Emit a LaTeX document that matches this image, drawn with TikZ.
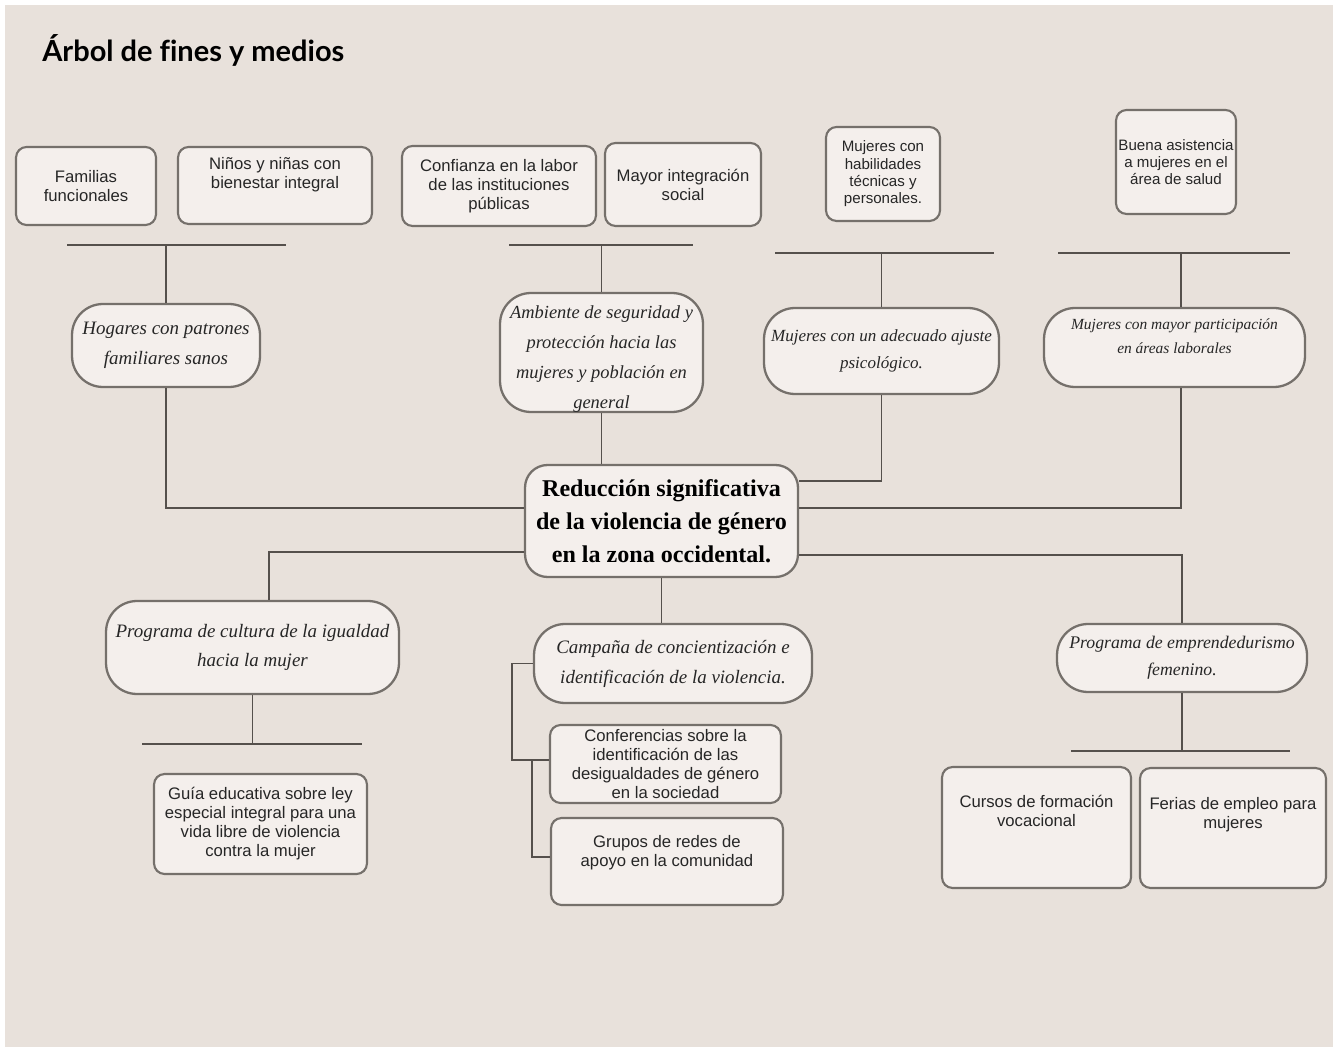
\documentclass[tikz,border=0pt]{standalone}
\usepackage{fontspec}
\setmainfont{Liberation Serif}
\newfontfamily\sansfont{Liberation Sans}
\newfontfamily\headfont{Lato}[Ligatures=NoCommon]
\definecolor{paper}{HTML}{E8E1DB}
\definecolor{boxfill}{HTML}{F4EFEC}
\definecolor{edge}{HTML}{75706B}
\definecolor{wirec}{HTML}{55504C}

\begin{document}
\begin{tikzpicture}[
  x=0.02cm, y=-0.02cm,
  sbox/.style={draw=edge, fill=boxfill, line width=1.2pt, rounded corners=6pt,
               inner sep=1pt, align=center, text=black!85,
               font=\sansfont\fontsize{9.5}{10.8}\selectfont},
  snug/.style={font=\sansfont\fontsize{8.6}{9.9}\selectfont},
  pill/.style={draw=edge, fill=boxfill, line width=1.3pt, rounded corners=0.62cm,
               inner sep=1pt, align=center, text=black!85,
               font=\itshape\fontsize{10.8}{17}\selectfont},
  txt/.style={align=center, inner sep=0pt, text=black!85,
              font=\sansfont\fontsize{9.5}{10.8}\selectfont},
  wire/.style={draw=wirec, line width=0.9pt},
]
\useasboundingbox (0,0) rectangle (1333,1047);
\fill[white] (0,0) rectangle (1333,1047);
\fill[paper] (5,5) rectangle (1333,1047);

\node[font=\headfont\bfseries\fontsize{16.5}{20}\selectfont, anchor=west, inner sep=0pt] (title) at (42,50) {Árbol de fines y medios};

%% ====================================================
%% Fines (top row)
%% ====================================================
\node[sbox, minimum width=2.80cm, minimum height=1.56cm] (fam) at (86,186) {Familias\\funcionales};
\node[sbox, minimum width=3.88cm, minimum height=1.54cm] (nin) at (275,185.5) {};
\node[txt] (nin-t) at (275,174.5) {Niños y niñas con\\bienestar integral};
\node[sbox, minimum width=3.88cm, minimum height=1.60cm] (con) at (499,186) {Confianza en la labor\\de las instituciones\\públicas};
\node[sbox, minimum width=3.12cm, minimum height=1.66cm] (may) at (683,184.5) {Mayor integración\\social};
\node[sbox, snug, minimum width=2.28cm, minimum height=1.88cm] (hab) at (883,174) {Mujeres con\\habilidades\\técnicas y\\personales.};
\node[sbox, snug, minimum width=2.40cm, minimum height=2.08cm] (bue) at (1176,162) {Buena asistencia\\a mujeres en el\\área de salud};

%% Bars
\coordinate (b1l) at (67,245);   \coordinate (b1r) at (286,245);
\coordinate (b2l) at (509,245);  \coordinate (b2r) at (693,245);
\coordinate (b3l) at (775,253);  \coordinate (b3r) at (994,253);
\coordinate (b4l) at (1058,253); \coordinate (b4r) at (1290,253);
\coordinate (b5l) at (142,744);  \coordinate (b5r) at (362,744);
\coordinate (b6l) at (1071,751); \coordinate (b6r) at (1290,751);
\coordinate (b4m) at (1181,253);
\foreach \b in {1,...,6} {
  \draw[wire] (b\b l) -- (b\b r);
}

%% ---- Middle row ----
\node[pill, minimum width=3.76cm, minimum height=1.66cm] (hog) at (166,345.5) {Hogares con patrones\\familiares sanos};
\node[pill, minimum width=4.06cm, minimum height=2.38cm] (amb) at (601.5,352.5) {};
\node[txt, font=\itshape\fontsize{10.5}{17}\selectfont] (amb-t) at (601.5,359) {Ambiente de seguridad y\\protección hacia las\\mujeres y población en\\general};
\node[pill, minimum width=4.70cm, minimum height=1.72cm, font=\itshape\fontsize{9.7}{15.3}\selectfont] (maj) at (881.5,351) {Mujeres con un adecuado ajuste\\psicológico.};
\node[pill, minimum width=5.22cm, minimum height=1.58cm] (mpa) at (1174.5,347.5) {};
\node[txt, font=\itshape\fontsize{8.8}{13.6}\selectfont] (mpa-t) at (1174.5,336) {Mujeres con mayor participación\\en áreas laborales};

\draw[wire] (hog.north) -- (hog.north |- b1l);
\draw[wire] (amb.north) -- (amb.north |- b2l);
\draw[wire] (maj.north) -- (maj.north |- b3l);
\draw[wire] (b4m) -- (b4m |- mpa.north);

%% ====================================================
%% Central problem
%% ====================================================
\node[pill, rounded corners=0.45cm, minimum width=5.46cm, minimum height=2.24cm, text=black,
      font=\bfseries\fontsize{13.7}{18.7}\selectfont] (cen) at (661.5,521) {Reducción significativa\\de la violencia de género\\en la zona occidental.};

\draw[wire] (hog.south) |- ([yshift=0.26cm]cen.west);
\draw[wire] (amb.south) -- (amb.south |- cen.north);
\draw[wire] (maj.south) |- ([yshift=0.80cm]cen.east);
\draw[wire] (b4m |- mpa.south) |- ([yshift=0.26cm]cen.east);

%% ====================================================
%% Medios (bottom row)
%% ====================================================
\node[pill, minimum width=5.86cm, minimum height=1.86cm] (pcu) at (252.5,647.5) {Programa de cultura de la igualdad\\hacia la mujer};
\node[sbox, minimum width=4.26cm, minimum height=2.00cm] (gui) at (260.5,824) {Guía educativa sobre ley\\especial integral para una\\vida libre de violencia\\contra la mujer};

\node[pill, minimum width=5.56cm, minimum height=1.58cm] (cam) at (673,663.5) {Campaña de concientización e\\identificación de la violencia.};
\node[sbox, minimum width=4.62cm, minimum height=1.56cm] (cnf) at (665.5,764) {Conferencias sobre la\\identificación de las\\desigualdades de género\\en la sociedad};
\node[sbox, minimum width=4.64cm, minimum height=1.74cm] (gru) at (667,861.5) {};
\node[txt] (gru-t) at (667,852.5) {Grupos de redes de\\apoyo en la comunidad};

\node[pill, minimum width=5.00cm, minimum height=1.36cm, font=\itshape\fontsize{10.1}{15.3}\selectfont] (pem) at (1182,658) {Programa de emprendedurismo\\femenino.};
\node[sbox, minimum width=3.78cm, minimum height=2.42cm] (cur) at (1036.5,827.5) {};
\node[txt] (cur-t) at (1036.5,810.5) {Cursos de formación\\vocacional};
\node[sbox, minimum width=3.72cm, minimum height=2.40cm] (fer) at (1233,828) {};
\node[txt] (fer-t) at (1233,814.5) {Ferias de empleo para\\mujeres};

\draw[wire] ([yshift=-0.62cm]cen.west) -| ([xshift=0.33cm]pcu.north);
\draw[wire] (cen.south) -- (cen.south |- cam.north);
\draw[wire] ([yshift=-0.68cm]cen.east) -| (pem.north);

\draw[wire] (pcu.south) -- (pcu.south |- b5l);
\draw[wire] (pem.south) -- (pem.south |- b6l);
\draw[wire] (cam.west) -- ++(-21,0) |- ([yshift=0.08cm]cnf.west);
\draw[wire] ([xshift=-0.34cm, yshift=0.08cm]cnf.west) |- ([yshift=0.09cm]gru.west);

\end{tikzpicture}
\end{document}
